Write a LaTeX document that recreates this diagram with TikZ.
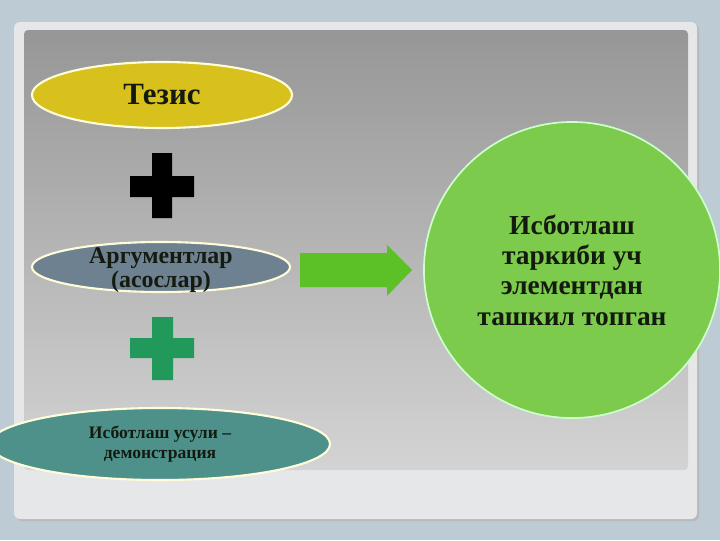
\documentclass[tikz,border=0pt]{standalone}
\usepackage{fontspec}
\setmainfont{Liberation Serif}
\usetikzlibrary{shapes.geometric}

\definecolor{slidebg}{HTML}{BCCBD4}
\definecolor{framefill}{HTML}{E6E7E8}
\definecolor{tezisyellow}{HTML}{D8C11C}
\definecolor{argblue}{HTML}{6E8190}
\definecolor{usulteal}{HTML}{4E918B}
\definecolor{plusgreen}{HTML}{21995A}
\definecolor{arrowgreen}{HTML}{5CC027}
\definecolor{circlegreen}{HTML}{7CCB4C}
\definecolor{darktext}{HTML}{141A10}

\begin{document}
\begin{tikzpicture}[x=0.025cm,y=-0.025cm,
	oval/.style={ellipse,draw=white!85!yellow,line width=1.5pt,inner sep=0pt,align=center,text=darktext},
	plusfill/.style={line width=0pt}]
%		\draw[help lines,step=40] (0,0) grid (720,540);
		\useasboundingbox (0,0) rectangle (720,540);
		\fill[slidebg] (0,0) rectangle (720,540);
		% slide frame and gray panel
		\fill[gray!55,rounded corners=0.15cm] (16,24) rectangle (699,521);
		\fill[framefill,rounded corners=0.15cm] (14,22) rectangle (697,519);
		\shade[top color=black!41,bottom color=black!17,rounded corners=0.1cm] (24,30) rectangle (688,470);

		% left column
		\path (162,95) node(tezis) [oval,fill=tezisyellow,minimum width=6.5cm,minimum height=1.65cm,
			font=\fontsize{22}{26}\selectfont\bfseries] {Тезис};
		\fill[plusfill,black] (152,153) rectangle (172,218) (130,176) rectangle (194,197);
		\path (161,267) node(argument) [oval,fill=argblue,minimum width=6.45cm,minimum height=1.25cm] {};
		\path (argument.center) +(0,3) node(argument_text) [align=center,text=darktext,inner sep=0pt,
			font=\fontsize{17}{17.5}\selectfont\bfseries] {Аргументлар\\(асослар)};
		\fill[plusfill,plusgreen] (152,317) rectangle (173,380) (130,338) rectangle (194,358);
		\path (160,444) node(usul) [oval,fill=usulteal,minimum width=8.5cm,minimum height=1.8cm,
			font=\fontsize{12.5}{14.5}\selectfont\bfseries] {Исботлаш усули –\\демонстрация};

		% result
		\path (572,270) node(result) [circle,draw=white!80!green,line width=1.2pt,fill=circlegreen,
			minimum size=7.4cm,inner sep=0pt,align=center,text=darktext,
			font=\fontsize{19.5}{21.5}\selectfont\bfseries]
			{Исботлаш\\таркиби уч\\элементдан\\ташкил топган};
		\fill[arrowgreen] (300,253) -- (387,253) -- (387,245) -- (412,270)
			-- (387,296) -- (387,287) -- (300,287) -- cycle;
	\end{tikzpicture}
\end{document}
